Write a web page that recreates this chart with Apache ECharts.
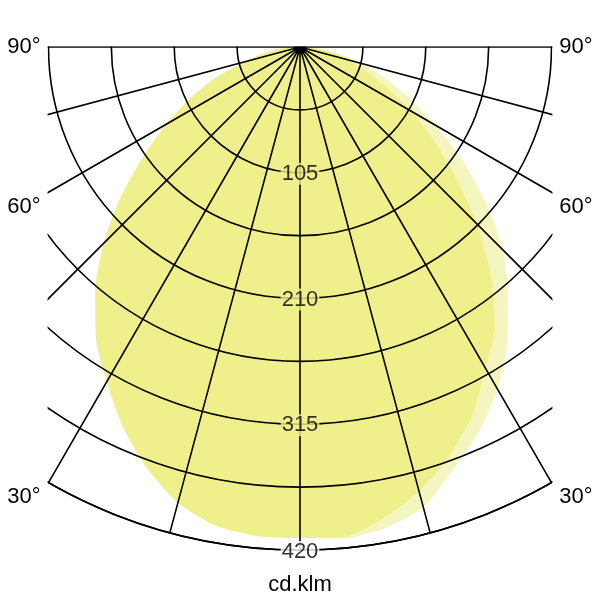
<!DOCTYPE html>
<html><head><meta charset="utf-8">
<script src="https://cdn.jsdelivr.net/npm/echarts@6/dist/echarts.min.js"></script>
<style>html,body{margin:0;padding:0;background:#fff}#c{width:600px;height:600px}</style>
</head><body><div id="c"></div>
<script>
// gamma angle (deg), negative = left half, 0 = straight down
const gammaDeg = [-90,-85,-80,-75,-70,-65,-60,-55,-50,-45,-40,-35,-30,-25,-20,-15,-10,-5,0,
                  5,10,15,20,25,30,35,40,45,50,55,60,65,70,75,80,85,90];
// luminous intensity, cd/klm
const darkCurve = [0,18,32,47,75,101,129,160,196,232,266,297,323,350,374,394,406,410,410,
                   411,400,384,364,340,310,284,248,209,170,137,108,80,58,42,28,14,0];
const paleCurve = [0,17,31,46,74,100,128,159,195,231,265,296,322,349,373,393,405,409,410,
                   412,408,398,375,354,330,302,270,240,203,166,130,100,75,55,35,18,0];
const radialTicks = [105,210,315,420];
const angleLabels = ['90°','60°','30°'];
const unitLabel = 'cd.klm';

const DARK = '#EFEF8C', PALE = '#F5F5C0', INK = '#000';
const FONT = '"Liberation Sans", Arial, sans-serif';

const chart = echarts.init(document.getElementById('c'));
const toPairs = arr => arr.map((v, i) => [v, gammaDeg[i]]);

const labelY = [47, 207, 497];
const graphics = [
  {type:'rect', z:100, shape:{x:0,y:0,width:47.6,height:600}, style:{fill:'#fff'}},
  {type:'rect', z:100, shape:{x:552.4,y:0,width:48,height:600}, style:{fill:'#fff'}},
  {type:'rect', z:100, shape:{x:0,y:0,width:600,height:46.2}, style:{fill:'#fff'}}
];
angleLabels.forEach((t, i) => {
  [24, 576].forEach(x => {
    graphics.push({type:'text', z:110, x: x, y: labelY[i],
      style:{text:t, fill:INK, fontSize:22, fontFamily:FONT,
             align:'center', verticalAlign:'middle', textAlign:'center', textVerticalAlign:'middle'}});
  });
});
graphics.push({type:'text', z:110, x:300, y:585,
  style:{text:unitLabel, fill:INK, fontSize:22, fontFamily:FONT,
         align:'center', verticalAlign:'middle', textAlign:'center', textVerticalAlign:'middle'}});

chart.setOption({
  animation: false,
  backgroundColor: '#fff',
  polar: { center: [300, 47], radius: 503 },
  angleAxis: {
    type: 'value', min: -180, max: 180, interval: 15, z: 3,
    startAngle: 90, clockwise: false,
    axisLine: { show: true, lineStyle: { color: INK, width: 1.6 } },
    axisTick: { show: false }, axisLabel: { show: false },
    splitLine: { show: true, lineStyle: { color: INK, width: 1.6 } }
  },
  radiusAxis: {
    type: 'value', min: 0, max: 420, interval: 52.5, z: 3,
    axisLine: { show: false }, axisTick: { show: false }, axisLabel: { show: false },
    splitLine: { show: true, lineStyle: { color: INK, width: 1.6 } }
  },
  graphic: graphics,
  series: [
    { type: 'line', coordinateSystem: 'polar', data: toPairs(paleCurve),
      showSymbol: false, smooth: 0.2, lineStyle: { opacity: 0, width: 0 },
      areaStyle: { color: PALE, opacity: 1 }, z: 1 },
    { type: 'line', coordinateSystem: 'polar', data: toPairs(darkCurve),
      showSymbol: false, smooth: 0.2, lineStyle: { opacity: 0, width: 0 },
      areaStyle: { color: DARK, opacity: 1 }, z: 1 },
    { type: 'scatter', coordinateSystem: 'polar', symbolSize: 0, z: 10,
      data: radialTicks.map((r, i) => ({
        value: [r, 0],
        label: { backgroundColor: i === radialTicks.length - 1 ? '#fff' : DARK,
                 offset: [0, i === radialTicks.length - 1 ? 2 : 1] }
      })),
      label: { show: true, position: 'inside', formatter: p => String(p.value[0]),
               color: INK, fontSize: 22, fontFamily: FONT, padding: [0, 1] }
    }
  ]
});
</script></body></html>
